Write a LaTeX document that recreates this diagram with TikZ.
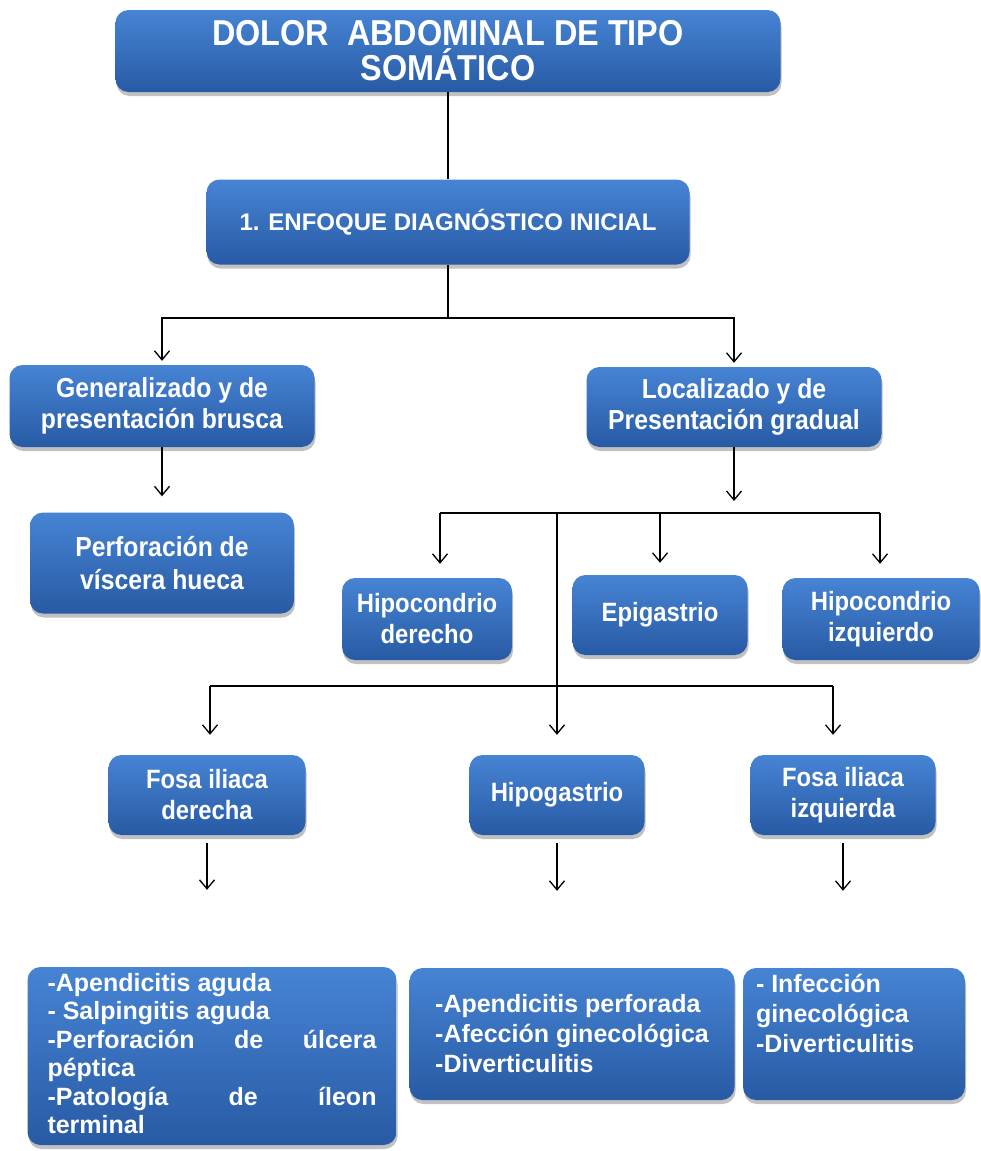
\documentclass[tikz,border=0pt]{standalone}
\usepackage{fontspec}
\setmainfont{Liberation Sans}
\newfontfamily\estirada{Liberation Sans}[FakeStretch=0.9]
\usetikzlibrary{arrows.meta,shadows}

\definecolor{azulclaro}{RGB}{70,132,212}
\definecolor{azuloscuro}{RGB}{40,90,164}

\tikzset{
  caja/.style={rectangle, rounded corners=13pt, top color=azulclaro, bottom color=azuloscuro,
    text=white, align=center, inner sep=4pt,
    font=\estirada\bfseries\fontsize{26.5}{31}\selectfont,
    drop shadow={shadow xshift=1pt, shadow yshift=-4pt, opacity=0.35, fill=black!70}},
  flecha/.style={-{Straight Barb[length=9pt,width=15pt]}, line width=1.3pt},
  linea/.style={line width=1.3pt},
}

\newcommand{\lista}[3]{\parbox[c][#1][t]{#2}{\raggedright #3}}

\begin{document}
\begin{tikzpicture}[x=1pt,y=-1pt]
  \useasboundingbox (0,0) rectangle (980,1151);

  % cajas
  \node[caja, minimum width=665pt, minimum height=82pt,
        font=\estirada\bfseries\fontsize{36}{35}\selectfont] (dolor) at (448,51)
        {DOLOR\ \ ABDOMINAL DE TIPO\\SOMÁTICO};
  \node[caja, minimum width=483pt, minimum height=85pt,
        font=\bfseries\fontsize{24}{29}\selectfont] (enfoque) at (448,222)
        {1. ENFOQUE DIAGNÓSTICO INICIAL};
  \node[caja, minimum width=305pt, minimum height=82pt,
        font=\estirada\bfseries\fontsize{27.5}{31}\selectfont] (general) at (162,406)
        {Generalizado y de\\presentación brusca};
  \node[caja, minimum width=295pt, minimum height=80pt,
        font=\estirada\bfseries\fontsize{27.5}{31}\selectfont] (local) at (734,407)
        {Localizado y de\\Presentación gradual};
  \node[caja, minimum width=264pt, minimum height=101pt,
        font=\estirada\bfseries\fontsize{27.5}{33}\selectfont] (perfora) at (162,563)
        {Perforación de\\víscera hueca};
  \node[caja, minimum width=170pt, minimum height=82pt] (hipoder) at (427,619)
        {Hipocondrio\\derecho};
  \node[caja, minimum width=175pt, minimum height=80pt] (epigas) at (660,615)
        {Epigastrio};
  \node[caja, minimum width=197pt, minimum height=82pt] (hipoizq) at (881,619)
        {Hipocondrio\\izquierdo};
  \node[caja, minimum width=197pt, minimum height=80pt] (fid) at (207,795)
        {Fosa iliaca\\derecha};
  \node[caja, minimum width=175pt, minimum height=80pt] (hipogas) at (557,795)
        {Hipogastrio};
  \node[caja, minimum width=185pt, minimum height=80pt] (fii) at (843,795)
        {Fosa iliaca\\izquierda};

  % listas
  \node[caja, minimum width=369pt, minimum height=178pt,
        font=\bfseries\fontsize{25}{28.5}\selectfont] (lista1) at (212,1056)
        {\lista{166pt}{329pt}{-Apendicitis aguda\\- Salpingitis aguda\\
         -Perforación\hfill de\hfill úlcera\\péptica\\
         -Patología\hfill de\hfill íleon\\terminal}};
  \node[caja, minimum width=325pt, minimum height=132pt, align=left,
        font=\bfseries\fontsize{25}{30}\selectfont] (lista2) at (572,1034)
        {-Apendicitis perforada\\-Afección ginecológica\\-Diverticulitis};
  \node[caja, minimum width=222pt, minimum height=132pt,
        font=\bfseries\fontsize{25}{30}\selectfont] (lista3) at (854,1034)
        {\lista{120pt}{196pt}{- Infección\\ginecológica\\-Diverticulitis}};

  % puntos de reparto
  \coordinate (r1) at (448,318);
  \coordinate (r2) at (734,513);
  \coordinate (b1) at (440,513);
  \coordinate (b2) at (880,513);
  \coordinate (b3) at (660,513);
  \coordinate (t1) at (557,513);
  \coordinate (t2) at (557,686);
  \coordinate (c1) at (210,686);
  \coordinate (c2) at (833,686);

  % conectores
  \draw[linea] (dolor) -- (enfoque);
  \draw[linea] (enfoque) -- (r1);
  \draw[flecha, shorten >=4pt] (r1) -| (general);
  \draw[flecha, shorten >=4pt] (r1) -| (local);
  \draw[flecha, shorten >=16pt] (general) -- (perfora);
  \draw[flecha, shorten >=12pt] (local) -- (r2);
  \draw[linea] (b1) -- (b2);
  \draw[flecha, shorten >=14pt] (b1) -- (b1 |- hipoder.north);
  \draw[flecha, shorten >=12pt] (b3) -- (b3 |- epigas.north);
  \draw[flecha, shorten >=14pt] (b2) -- (b2 |- hipoizq.north);
  \draw[linea] (t1) -- (t2);
  \draw[linea] (c1) -- (c2);
  \draw[flecha, shorten >=20pt] (c1) -- (c1 |- fid.north);
  \draw[flecha, shorten >=20pt] (t2) -- (hipogas);
  \draw[flecha, shorten >=20pt] (c2) -- (c2 |- fii.north);
  \draw[flecha, shorten <=8pt, shorten >=77pt] (fid) -- (lista1.north -| fid);
  \draw[flecha, shorten <=8pt, shorten >=77pt] (hipogas) -- (hipogas |- lista2.north);
  \draw[flecha, shorten <=8pt, shorten >=77pt] (fii) -- (fii |- lista3.north);
\end{tikzpicture}
\end{document}
